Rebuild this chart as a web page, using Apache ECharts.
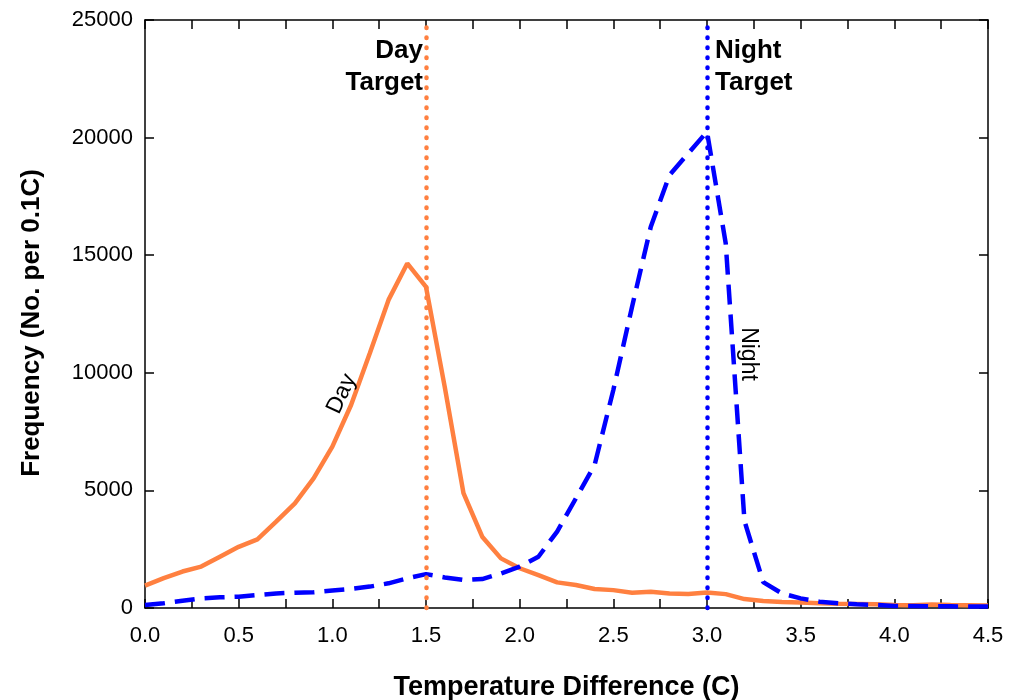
<!DOCTYPE html>
<html>
<head>
<meta charset="utf-8">
<script src="https://cdn.jsdelivr.net/npm/echarts@6/dist/echarts.min.js"></script>
<style>html,body{margin:0;padding:0;background:#fff}#c{width:1023px;height:700px}</style>
</head>
<body>
<div id="c"></div>
<script>
// Temperature difference (C), step 0.1
const temps = [0.0,0.1,0.2,0.3,0.4,0.5,0.6,0.7,0.8,0.9,1.0,1.1,1.2,1.3,1.4,1.5,1.6,1.7,1.8,1.9,2.0,2.1,2.2,2.3,2.4,2.5,2.6,2.7,2.8,2.9,3.0,3.1,3.2,3.3,3.4,3.5,3.6,3.7,3.8,3.9,4.0,4.1,4.2,4.3,4.4,4.5];
const dayValues = [950,1270,1550,1760,2180,2600,2920,3670,4450,5510,6860,8630,10830,13100,14650,13650,9400,4880,3030,2110,1690,1400,1090,980,810,760,650,690,620,600,660,590,380,300,260,230,200,180,170,160,130,120,150,130,120,110];
const nightValues = [130,200,310,410,455,480,550,620,650,670,740,810,910,1050,1260,1440,1300,1190,1230,1470,1760,2180,3250,4660,6080,9270,12810,16210,18410,19330,20250,15500,3700,1100,620,410,270,200,160,130,90,80,70,70,60,60];
const dayTarget = 1.5;
const nightTarget = 3.0;
const xTicks = {min: 0, max: 4.5, step: 0.25};
const yTicks = {min: 0, max: 25000, step: 5000};
const dayLabelPos = [1.05, 9100];
const nightLabelPos = [3.22, 10800];
const targetLabelY = 23000;

const dayData = temps.map((t, i) => [t, dayValues[i]]);
const nightData = temps.map((t, i) => [t, nightValues[i]]);

const FONT = 'Liberation Sans, Arial, sans-serif';
const axisLine = {show: true, onZero: false, lineStyle: {color: '#000', width: 1.5}};
const tick = {show: true, inside: true, length: 9, lineStyle: {color: '#000', width: 1.5}};
const xLabelFmt = v => (Math.round(v * 4) % 2 === 0 ? v.toFixed(1) : '');
const yLabelFmt = v => String(v);

const chart = echarts.init(document.getElementById('c'), null, {renderer: 'canvas'});
chart.setOption({
  animation: false,
  backgroundColor: '#fff',
  grid: {left: 145, right: 35, top: 20, bottom: 92, containLabel: false, outerBoundsMode: 'none'},
  xAxis: [
    {type: 'value', position: 'bottom', min: xTicks.min, max: xTicks.max, interval: xTicks.step,
     axisLine, axisTick: tick, splitLine: {show: false},
     axisLabel: {formatter: xLabelFmt, color: '#000', fontSize: 22, fontFamily: FONT, margin: 17, showMaxLabel: true, showMinLabel: true, hideOverlap: false},
     name: 'Temperature Difference (C)', nameLocation: 'middle', nameGap: 66,
     nameTextStyle: {fontSize: 27, fontWeight: 'bold', color: '#000', fontFamily: FONT}},
    {type: 'value', position: 'top', min: xTicks.min, max: xTicks.max, interval: xTicks.step,
     axisLine, axisTick: tick, splitLine: {show: false}, axisLabel: {show: false}}
  ],
  yAxis: [
    {type: 'value', position: 'left', min: yTicks.min, max: yTicks.max, interval: yTicks.step,
     axisLine, axisTick: tick, splitLine: {show: false},
     axisLabel: {formatter: yLabelFmt, color: '#000', fontSize: 22, fontFamily: FONT, margin: 12},
     name: 'Frequency (No. per 0.1C)', nameLocation: 'middle', nameGap: 100, nameRotate: 90,
     nameTextStyle: {fontSize: 26, fontWeight: 'bold', color: '#000', fontFamily: FONT, padding: [0, 18, 0, 0]}},
    {type: 'value', position: 'right', min: yTicks.min, max: yTicks.max, interval: yTicks.step,
     axisLine, axisTick: tick, splitLine: {show: false}, axisLabel: {show: false}}
  ],
  series: [
    {name: 'Day', type: 'line', data: dayData, showSymbol: false, symbol: 'none', z: 3,
     lineStyle: {color: '#FF8040', width: 4.5, type: 'solid'},
     markLine: {silent: true, symbol: 'none', label: {show: false},
       lineStyle: {color: '#FF8040', width: 4.5, type: [0.5, 9.5], cap: 'round'},
       data: [{xAxis: dayTarget}]},
     markPoint: {silent: true, symbol: 'circle', symbolSize: 0,
       data: [
         {coord: [dayTarget, targetLabelY], label: {show: true, formatter: 'Day\nTarget', position: 'left', distance: 3, align: 'right',
           fontSize: 26, fontWeight: 'bold', color: '#000', fontFamily: FONT, lineHeight: 32}},
         {coord: dayLabelPos, label: {show: true, formatter: 'Day', position: 'inside', rotate: 65,
           fontSize: 23, color: '#000', fontFamily: FONT}}
       ]}},
    {name: 'Night', type: 'line', data: nightData, showSymbol: false, symbol: 'none', z: 4,
     lineStyle: {color: '#0000FF', width: 4.5, type: [20, 10]},
     markLine: {silent: true, symbol: 'none', label: {show: false},
       lineStyle: {color: '#0000FF', width: 4.5, type: [0.5, 9.5], cap: 'round'},
       data: [{xAxis: nightTarget}]},
     markPoint: {silent: true, symbol: 'circle', symbolSize: 0,
       data: [
         {coord: [nightTarget, targetLabelY], label: {show: true, formatter: 'Night\nTarget', position: 'right', distance: 8, align: 'left',
           fontSize: 26, fontWeight: 'bold', color: '#000', fontFamily: FONT, lineHeight: 32}},
         {coord: nightLabelPos, label: {show: true, formatter: 'Night', position: 'inside', rotate: -90,
           fontSize: 23, color: '#000', fontFamily: FONT}}
       ]}}
  ]
});
</script>
</body>
</html>
